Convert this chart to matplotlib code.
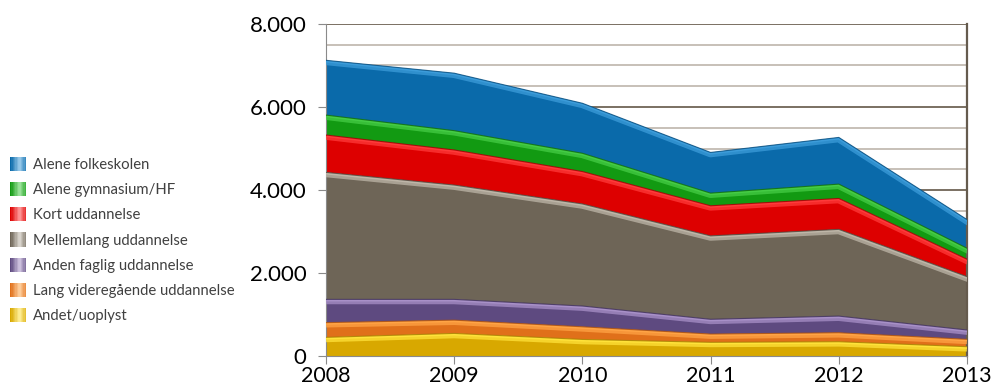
import matplotlib
matplotlib.use("Agg")
import matplotlib.pyplot as plt
import numpy as np
from matplotlib.legend_handler import HandlerBase
from matplotlib.patches import Rectangle
from matplotlib.colors import to_rgb
from matplotlib.ticker import FuncFormatter, MultipleLocator

years = [2008, 2009, 2010, 2011, 2012, 2013]
# stacking order: bottom -> top
categories = ["Andet/uoplyst", "Lang videregående uddannelse", "Anden faglig uddannelse",
              "Mellemlang uddannelse", "Kort uddannelse", "Alene gymnasium/HF", "Alene folkeskolen"]
andet = [450, 545, 400, 330, 345, 225]
lang = [355, 320, 305, 200, 217, 178]
anden = [560, 500, 500, 355, 400, 225]
mellemlang = [3060, 2755, 2460, 2010, 2090, 1285]
kort = [900, 845, 780, 725, 745, 420]
gymnasium = [480, 465, 440, 305, 345, 265]
folkeskolen = [1320, 1385, 1205, 980, 1125, 690]
series = [andet, lang, anden, mellemlang, kort, gymnasium, folkeskolen]

main_cols = ["#D8A800", "#E0701A", "#5E4A80", "#6E6557", "#DD0000", "#129A12", "#0A6AAA"]
light_cols = ["#FFE23A", "#FFA445", "#A890C8", "#BEB6A8", "#FF3A3A", "#45CC45", "#3C9CDA"]
dark_cols = ["#A67E00", "#A84E10", "#3E2F58", "#4E463B", "#9A0000", "#0C6A0C", "#074C7C"]

plt.rcParams['font.family'] = ['Lato', 'DejaVu Sans']

fig = plt.figure(figsize=(9.93, 3.87), dpi=100)
ax = fig.add_axes([0.3283, 0.080, 0.9738 - 0.3283, 0.938 - 0.080])

x = np.array(years, dtype=float)
base = np.zeros(len(years))
for vals, mc, lc, dc in zip(series, main_cols, light_cols, dark_cols):
    top = base + np.array(vals, dtype=float)
    poly = ax.fill_between(x, base, top, color=mc, linewidth=0, zorder=2)
    hl, = ax.plot(x, top, color=lc, lw=7, zorder=3, alpha=0.75, solid_joinstyle='round')
    hl.set_clip_path(poly.get_paths()[0], poly.get_transform())
    hl2, = ax.plot(x, top, color=lc, lw=3, zorder=3, solid_joinstyle='round')
    hl2.set_clip_path(poly.get_paths()[0], poly.get_transform())
    ax.plot(x, top, color=dc, lw=0.8, zorder=4, alpha=0.8)
    base = top

ax.set_xlim(2008, 2013)
ax.set_ylim(0, 8000)
ax.set_xticks(years)
ax.set_yticks([0, 2000, 4000, 6000, 8000])
ax.yaxis.set_minor_locator(MultipleLocator(500))
ax.yaxis.set_major_formatter(FuncFormatter(lambda v, p: f"{int(v):,}".replace(",", ".")))
ax.grid(axis='y', which='minor', color='#BDB5AC', lw=1.2, zorder=0)
ax.grid(axis='y', which='major', color='#7A7062', lw=1.4, zorder=0)
ax.tick_params(axis='y', which='minor', length=0)
ax.tick_params(axis='both', which='major', labelsize=16, length=6, color='#8A8A8A',
               labelcolor='#000000')
ax.tick_params(axis='y', pad=8)
ax.tick_params(axis='x', pad=1, labelsize=15.5)
ax.spines['top'].set_visible(False)
ax.spines['left'].set_color('#8A8A8A')
ax.spines['bottom'].set_color('#8A8A8A')
ax.spines['right'].set_color('#655B4E')
ax.spines['right'].set_linewidth(1.6)


class GradHandler(HandlerBase):
    def create_artists(self, legend, orig_handle, xdescent, ydescent, width, height, fontsize, trans):
        mc, lc = orig_handle
        c1 = np.array(to_rgb(mc)); c2 = np.array(to_rgb(lc))
        n = 12
        arts = []
        h = height * 1.35
        y0 = -ydescent - (h - height) / 2
        for i in range(n):
            t = i / (n - 1)
            w = 1 - abs(t - 0.6) / 0.6
            col = c1 * (1 - w) + (c2 * 0.5 + 0.5) * w
            r = Rectangle((-xdescent + width * i / n, y0), width / n + 0.3, h,
                          facecolor=np.clip(col, 0, 1), edgecolor='none', transform=trans)
            arts.append(r)
        return arts


handles = [(m, l) for m, l in zip(main_cols, light_cols)][::-1]
labels = categories[::-1]
fig.legend(handles, labels, handler_map={tuple: GradHandler()}, loc='upper left',
           bbox_to_anchor=(0.004, 0.607), frameon=False, fontsize=10.7, handlelength=1.08,
           handletextpad=0.47, labelspacing=0.755, labelcolor='#404040', borderaxespad=0)

fig.savefig("out.png", dpi=100)
